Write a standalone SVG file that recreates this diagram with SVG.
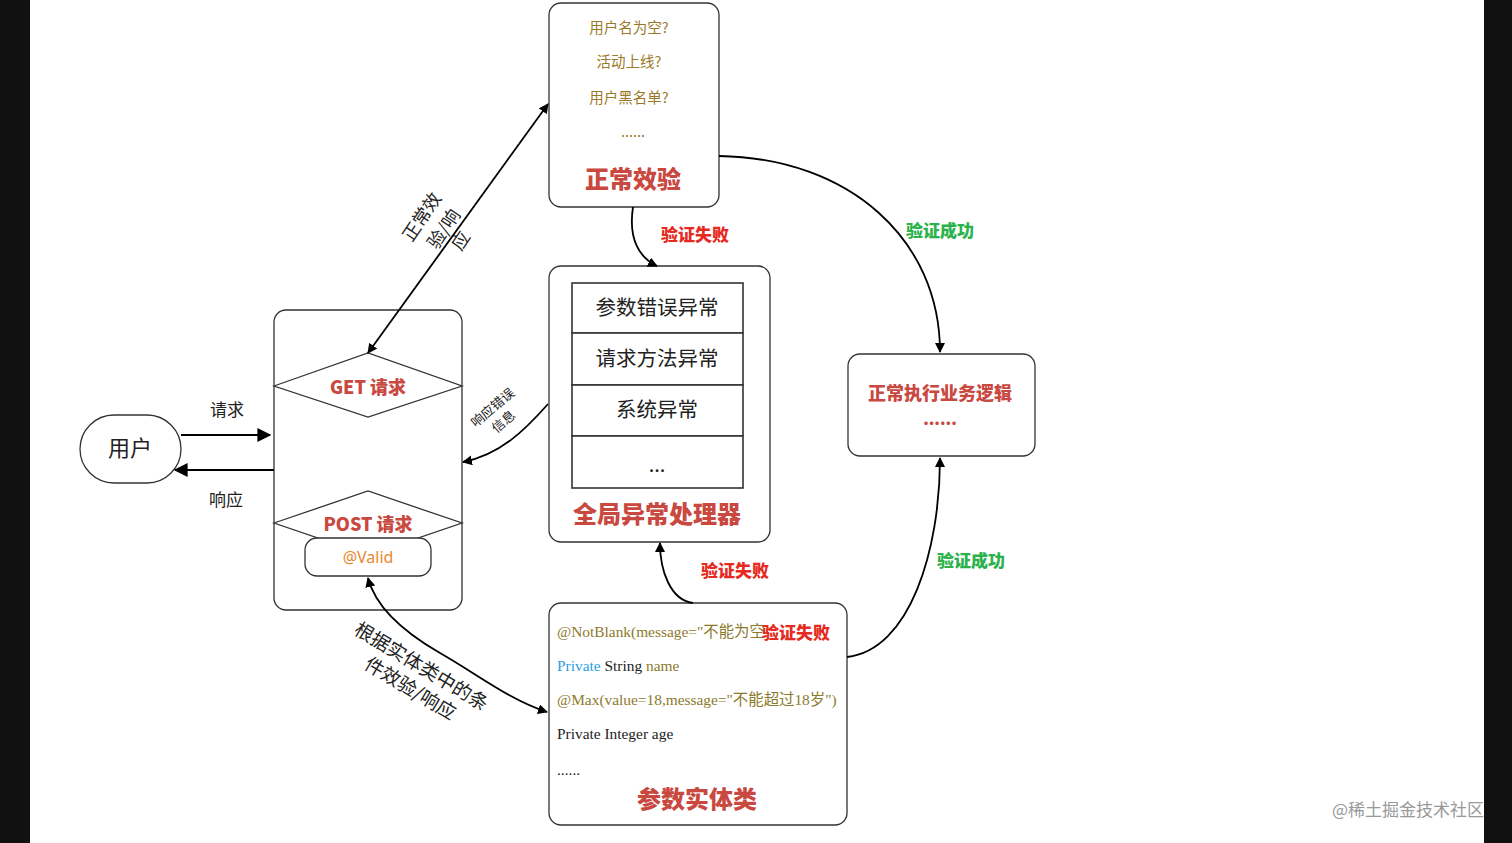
<svg xmlns="http://www.w3.org/2000/svg" width="1512" height="843" viewBox="0 0 1512 843">
<defs>
<marker id="ah" viewBox="0 0 10 10" refX="9" refY="5" markerWidth="10" markerHeight="10" markerUnits="userSpaceOnUse" orient="auto-start-reverse">
<path d="M0,0 L10,5 L0,10 z" fill="#000"/>
</marker>
<marker id="ahb" viewBox="0 0 10 10" refX="9" refY="5" markerWidth="16" markerHeight="14" markerUnits="userSpaceOnUse" orient="auto-start-reverse">
<path d="M0,0 L10,5 L0,10 z" fill="#000"/>
</marker>
</defs>
<style>
.box{fill:#fff;stroke:#333;stroke-width:1.3}
.cell{fill:#fff;stroke:#333;stroke-width:1.6}
.title{font-family:"Noto Sans CJK SC",sans-serif;font-weight:900;fill:#C9483F;text-anchor:middle}
.q{font-family:"Noto Sans CJK SC",sans-serif;font-size:14.5px;fill:#9A7A28;text-anchor:middle}
.code{font-family:"Liberation Serif","Noto Sans CJK SC",serif;font-size:15.4px;fill:#222}
.olive{fill:#8C7A2C}
.fail{font-family:"Noto Sans CJK SC",sans-serif;font-weight:900;font-size:17px;fill:#E62A22;text-anchor:middle}
.ok{font-family:"Noto Sans CJK SC",sans-serif;font-weight:900;font-size:17px;fill:#2BB24C;text-anchor:middle}
.lbl{font-family:"Noto Sans CJK SC",sans-serif;fill:#222;text-anchor:middle}
.conn{fill:none;stroke:#000;stroke-width:1.8}
</style>
<rect x="0" y="0" width="1512" height="843" fill="#fff"/>
<rect x="0" y="0" width="30" height="843" fill="#111"/>
<rect x="1484" y="0" width="28" height="843" fill="#111"/>

<g id="node-check">
<rect class="box" x="549" y="3" width="170" height="204" rx="12"/>
<text class="q" x="629" y="33">用户名为空?</text>
<text class="q" x="629" y="67">活动上线?</text>
<text class="q" x="629" y="103">用户黑名单?</text>
<text class="q" x="633" y="137">......</text>
<text class="title" x="633" y="188" font-size="24">正常效验</text>
</g>

<g id="node-handler">
<rect class="box" x="549" y="266" width="221" height="276" rx="12"/>
<rect class="cell" x="572" y="283" width="171" height="50"/>
<rect class="cell" x="572" y="333" width="171" height="52"/>
<rect class="cell" x="572" y="385" width="171" height="51"/>
<rect class="cell" x="572" y="436" width="171" height="52"/>
<text class="lbl" x="657" y="315" font-size="20.5">参数错误异常</text>
<text class="lbl" x="657" y="366" font-size="20.5">请求方法异常</text>
<text class="lbl" x="657" y="417" font-size="20.5">系统异常</text>
<text class="lbl" x="657" y="472" font-size="20">...</text>
<text class="title" x="657" y="523" font-size="24">全局异常处理器</text>
</g>

<g id="node-request">
<rect class="box" x="274" y="310" width="188" height="300" rx="12"/>
<polygon class="box" points="274,386 368,353 462,386 368,417"/>
<text class="title" x="368" y="394" font-size="18">GET 请求</text>
<polygon class="box" points="274,523 368,491 462,523 368,555"/>
<text class="title" x="368" y="531" font-size="18">POST 请求</text>
<rect class="box" x="305" y="538" width="126" height="38" rx="12"/>
<text x="368" y="563" font-family="Noto Sans, sans-serif" font-size="16" fill="#E8892E" text-anchor="middle">@Valid</text>
</g>

<g id="node-user">
<rect class="box" x="80" y="415" width="101" height="68" rx="34"/>
<text class="lbl" x="130" y="456" font-size="22">用户</text>
</g>

<g id="node-business">
<rect class="box" x="848" y="354" width="187" height="102" rx="12"/>
<text class="title" x="940" y="400" font-size="18">正常执行业务逻辑</text>
<text class="title" x="940" y="425" font-size="16">......</text>
</g>

<g id="node-entity">
<rect class="box" x="549" y="603" width="298" height="222" rx="12"/>
<text class="code olive" x="557" y="637">@NotBlank(message="不能为空</text>
<text class="fail" x="796" y="639">验证失败</text>
<text class="code" x="557" y="671"><tspan fill="#2A9FE0">Private</tspan> String <tspan class="olive">name</tspan></text>
<text class="code olive" x="557" y="705">@Max(value=18,message="不能超过18岁")</text>
<text class="code" x="557" y="739">Private Integer age</text>
<text class="code" x="557" y="775">......</text>
<text class="title" x="697" y="808" font-size="24">参数实体类</text>
</g>

<g id="connectors">
<path class="conn" d="M181,435 L270,435" marker-end="url(#ahb)"/>
<path class="conn" d="M274,470 L175,470" marker-end="url(#ahb)"/>
<path class="conn" d="M368,353 L548,104" marker-start="url(#ah)" marker-end="url(#ah)"/>
<path class="conn" d="M633,207 C628,240 640,258 657,266" marker-end="url(#ah)"/>
<path class="conn" d="M719,156 C850,158 940,240 940,352" marker-end="url(#ah)"/>
<path class="conn" d="M847,657 C910,650 940,550 940,458" marker-end="url(#ah)"/>
<path class="conn" d="M693,603 C670,600 660,570 660,543" marker-end="url(#ah)"/>
<path class="conn" d="M548,404 C525,430 500,455 463,462" marker-end="url(#ah)"/>
<path class="conn" d="M368,578 C375,605 400,630 440,653 S510,700 547,712" marker-start="url(#ah)" marker-end="url(#ah)"/>
</g>

<g id="labels">
<text class="lbl" x="227" y="416" font-size="17">请求</text>
<text class="lbl" x="226" y="506" font-size="17">响应</text>
<text class="fail" x="695" y="241">验证失败</text>
<text class="ok" x="940" y="237">验证成功</text>
<text class="fail" x="735" y="577">验证失败</text>
<text class="ok" x="971" y="567">验证成功</text>
<g font-size="18" class="lbl">
<text transform="translate(422,217) rotate(-56)" y="6">正常效</text>
<text transform="translate(444,229) rotate(-56)" y="6">验/响</text>
<text transform="translate(461,241) rotate(-56)" y="6">应</text>
</g>
<g font-size="13" class="lbl">
<text transform="translate(493,408) rotate(-40)" y="4">响应错误</text>
<text transform="translate(504,422) rotate(-40)" y="4">信息</text>
</g>
<g font-size="19" class="lbl">
<text transform="translate(421,667) rotate(31)" y="6">根据实体类中的条</text>
<text transform="translate(410,689) rotate(31)" y="6">件效验/响应</text>
</g>
</g>
<text x="1408" y="816" font-family="Noto Sans CJK SC, sans-serif" font-size="17" fill="#999" text-anchor="middle">@稀土掘金技术社区</text>
</svg>
